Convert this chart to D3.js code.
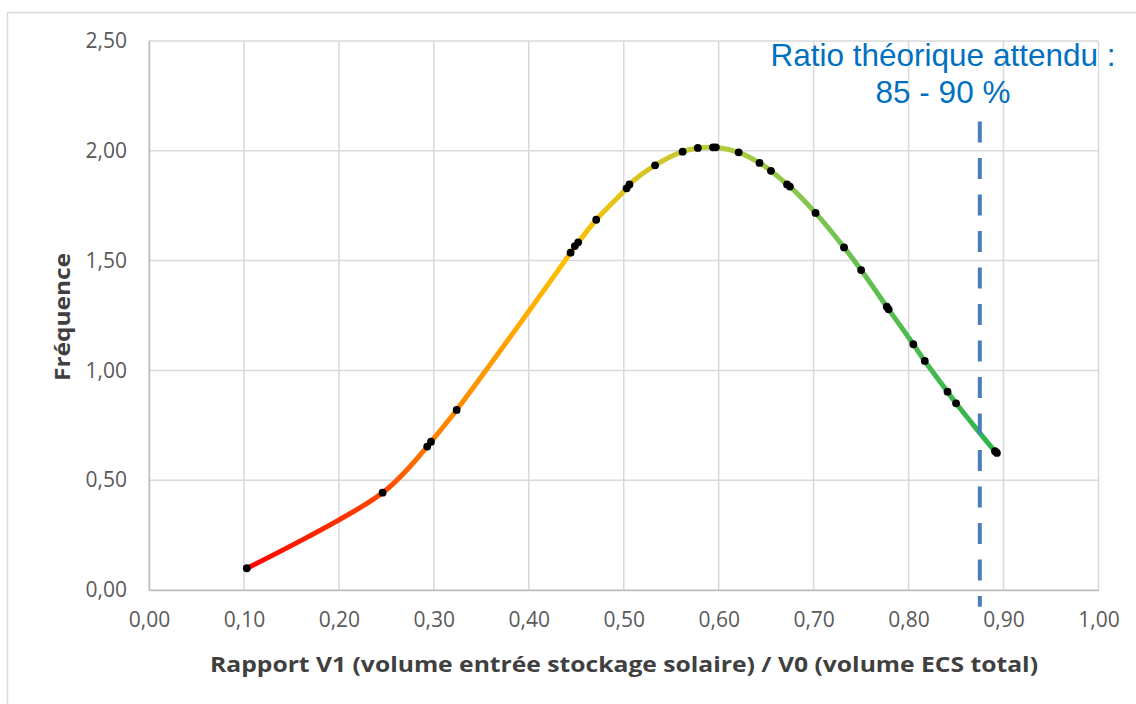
<!DOCTYPE html>
<meta charset="utf-8">
<style>
body { margin: 0; background: #fff; }
svg { display: block; font-family: "Open Sans", sans-serif; }
</style>
<svg width="1136" height="704"></svg>
<script src="https://d3js.org/d3.v7.min.js"></script>
<script>

// ratio V1/V0 and frequency
var ratio = [0.103, 0.246, 0.293, 0.297, 0.324, 0.444, 0.4485, 0.452, 0.471, 0.503, 0.506,
  0.533, 0.562, 0.578, 0.594, 0.597, 0.621, 0.643, 0.655, 0.672, 0.675, 0.702, 0.732,
  0.750, 0.777, 0.779, 0.805, 0.817, 0.841, 0.850, 0.891, 0.893];
var freq = [0.099, 0.443, 0.653, 0.675, 0.820, 1.536, 1.566, 1.583, 1.686, 1.829, 1.847,
  1.934, 1.996, 2.013, 2.016, 2.016, 1.993, 1.945, 1.909, 1.847, 1.837, 1.717, 1.560,
  1.457, 1.290, 1.278, 1.119, 1.043, 0.903, 0.850, 0.632, 0.624];

var xTicks = [0, 0.1, 0.2, 0.3, 0.4, 0.5, 0.6, 0.7, 0.8, 0.9, 1.0];
var yTicks = [0, 0.5, 1.0, 1.5, 2.0, 2.5];

// colour along the curve (by ratio)
var gradStops = [0.10, 0.25, 0.30, 0.44, 0.50, 0.60, 0.70, 0.80, 0.89];
var gradColors = ["#ff0000", "#ff4a00", "#ff8000", "#ffc000", "#e0c41b", "#b5cc3d", "#80c550", "#4cbb4f", "#2db44d"];

// expected ratio marker
var expectedRatio = 0.875;
var expectedSpan = [-0.076, 2.133];
var noteLines = ["Ratio théorique attendu :", "85 - 90 %"];

var svg = d3.select("svg");

var x = d3.scaleLinear().domain([0, 1]).range([149, 1098.5]);
var y = d3.scaleLinear().domain([0, 2.5]).range([590, 41]);

var fmt = function(d) { return d3.format(".2f")(d).replace(".", ","); };

// outer chart border
svg.append("rect")
  .attr("x", 7.5).attr("y", 12.5)
  .attr("width", 1140).attr("height", 700)
  .attr("fill", "#fff")
  .attr("stroke", "#d9d9d9")
  .attr("stroke-width", 1.5);

// grid
svg.append("g").selectAll("line")
  .data(xTicks)
  .join("line")
  .attr("x1", d => x(d)).attr("x2", d => x(d))
  .attr("y1", y(0)).attr("y2", y(2.5))
  .attr("stroke", "#d9d9d9").attr("stroke-width", 1.5);

svg.append("g").selectAll("line")
  .data(yTicks)
  .join("line")
  .attr("x1", x(0)).attr("x2", x(1))
  .attr("y1", d => y(d)).attr("y2", d => y(d))
  .attr("stroke", "#d9d9d9").attr("stroke-width", 1.5);

// axes
var xAxis = svg.append("g")
  .attr("transform", "translate(0," + y(0) + ")")
  .call(d3.axisBottom(x).tickValues(xTicks).tickFormat(fmt).tickSize(0).tickPadding(22));

var yAxis = svg.append("g")
  .attr("transform", "translate(" + x(0) + ",0)")
  .call(d3.axisLeft(y).tickValues(yTicks).tickFormat(fmt).tickSize(0).tickPadding(22));

svg.selectAll(".domain").attr("stroke", "#bfbfbf").attr("stroke-width", 1.5);
svg.selectAll(".tick text")
  .attr("fill", "#595959")
  .style("font-family", "'Open Sans', sans-serif")
  .style("font-size", "21px");

// gradient for the curve
var grad = svg.append("defs").append("linearGradient")
  .attr("id", "curveGrad")
  .attr("gradientUnits", "userSpaceOnUse")
  .attr("x1", x(gradStops[0])).attr("x2", x(gradStops[gradStops.length - 1]))
  .attr("y1", 0).attr("y2", 0);

grad.selectAll("stop")
  .data(gradStops)
  .join("stop")
  .attr("offset", (d) => (d - gradStops[0]) / (gradStops[gradStops.length - 1] - gradStops[0]))
  .attr("stop-color", (d, i) => gradColors[i]);

var pts = ratio.map((r, i) => [r, freq[i]]);

var line = d3.line()
  .x(d => x(d[0]))
  .y(d => y(d[1]))
  .curve(d3.curveCatmullRom.alpha(0.5));

svg.append("path")
  .datum(pts)
  .attr("d", line)
  .attr("fill", "none")
  .attr("stroke", "url(#curveGrad)")
  .attr("stroke-width", 5)
  .attr("stroke-linecap", "round");

svg.append("g").selectAll("circle")
  .data(pts)
  .join("circle")
  .attr("cx", d => x(d[0]))
  .attr("cy", d => y(d[1]))
  .attr("r", 3.9)
  .attr("fill", "#000");

// dashed marker
svg.append("line")
  .attr("x1", x(expectedRatio)).attr("x2", x(expectedRatio))
  .attr("y1", y(expectedSpan[1])).attr("y2", y(expectedSpan[0]))
  .attr("stroke", "#4a7ebb")
  .attr("stroke-width", 4)
  .attr("stroke-dasharray", "21,15.5");

var note = svg.append("text")
  .attr("text-anchor", "middle")
  .attr("fill", "#0070c0")
  .style("font-family", "'Liberation Sans', Arial, sans-serif")
  .style("font-size", "31.5px");
note.selectAll("tspan")
  .data(noteLines)
  .join("tspan")
  .attr("x", 943)
  .attr("y", (d, i) => 66 + i * 36.7)
  .text(d => d);

// axis titles
svg.append("text")
  .attr("x", 624).attr("y", 672)
  .attr("text-anchor", "middle")
  .attr("fill", "#404040")
  .attr("textLength", 828)
  .attr("lengthAdjust", "spacingAndGlyphs")
  .style("font-weight", "bold")
  .style("font-size", "22px")
  .text("Rapport V1 (volume entrée stockage solaire) / V0 (volume ECS total)");

svg.append("text")
  .attr("transform", "translate(70,317) rotate(-90)")
  .attr("text-anchor", "middle")
  .attr("fill", "#404040")
  .attr("textLength", 128)
  .attr("lengthAdjust", "spacingAndGlyphs")
  .style("font-weight", "bold")
  .style("font-size", "22px")
  .text("Fréquence");

</script>
